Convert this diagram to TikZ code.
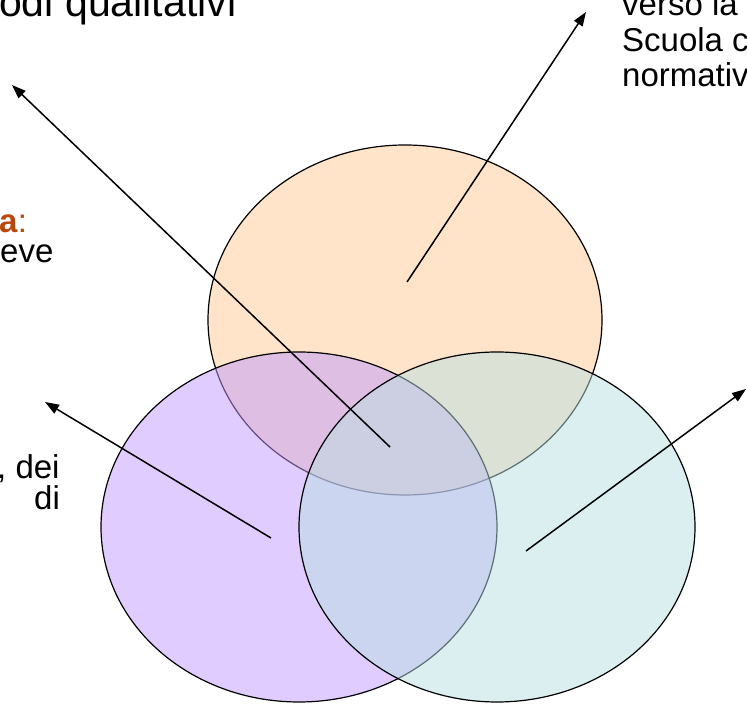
\documentclass[tikz,border=0pt]{standalone}
\usepackage{fontspec}
\setmainfont{Liberation Sans}
\usetikzlibrary{arrows.meta}
\definecolor{peach}{RGB}{255,201,147}
\definecolor{lilac}{RGB}{193,153,255}
\definecolor{aqua}{RGB}{185,223,225}
\definecolor{rust}{RGB}{185,72,12}
\begin{document}
\begin{tikzpicture}[x=1pt,y=1pt,
  set/.style={line width=1.2pt, draw=black, fill opacity=0.5},
  pointer/.style={line width=1.5pt, -{Triangle[length=14pt,width=10pt]}},
  caption/.style={font=\fontsize{33}{40}\selectfont, inner sep=0pt, anchor=base west},
  headline/.style={font=\fontsize{41}{48}\selectfont, inner sep=0pt, anchor=base west},
]
\clip (0,0) rectangle (747,704);

% three overlapping sets, each fill half transparent
\filldraw[set, fill=peach] (405,384) ellipse [x radius=197, y radius=175];
\filldraw[set, fill=lilac] (299,177) ellipse [x radius=198, y radius=175];
\filldraw[set, fill=aqua]  (497,177) ellipse [x radius=198, y radius=175];

% text fragments around the diagram
\node[headline] (tl) at (-1,687) {odi qualitativi};
\node[caption] (tr1) at (622,688) {verso la};
\node[caption] (tr2) at (622,652) {Scuola c};
\node[caption] (tr3) at (622,617) {normativ};
\node[caption, text=rust] (ml1) at (-1,471) {\textbf{a}:};
\node[caption] (ml2) at (0,441) {eve};
\node[caption] (bl1) at (-3,225) {, dei};
\node[caption] (bl2) at (34,194) {di};

% pointer arrows
\coordinate (s1) at (407,422); \coordinate (e1) at (586,692);
\coordinate (s2) at (390,257); \coordinate (e2) at (12,619);
\coordinate (s3) at (271,166); \coordinate (e3) at (45,302);
\coordinate (s4) at (526,153); \coordinate (e4) at (746,315);
\draw[pointer] (s1) -- (e1);
\draw[pointer] (s2) -- (e2);
\draw[pointer] (s3) -- (e3);
\draw[pointer] (s4) -- (e4);
\end{tikzpicture}
\end{document}
